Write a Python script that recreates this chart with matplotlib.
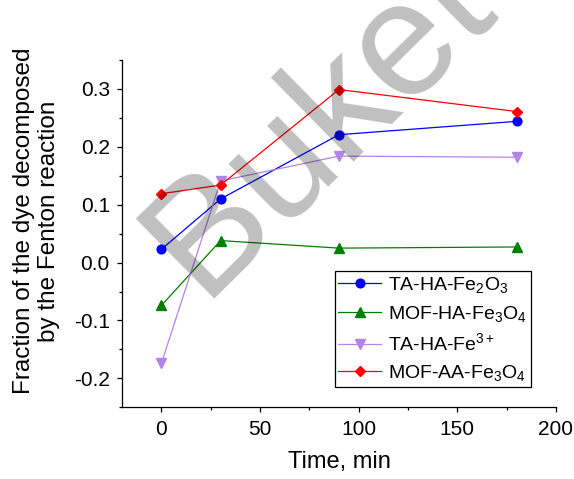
import matplotlib
matplotlib.use("Agg")
import matplotlib.pyplot as plt
from matplotlib.ticker import MultipleLocator, FormatStrFormatter

plt.rcParams['font.family'] = ['Liberation Sans', 'DejaVu Sans']
plt.rcParams['axes.unicode_minus'] = False
plt.rcParams['mathtext.fontset'] = 'custom'
plt.rcParams['mathtext.rm'] = 'Liberation Sans'
plt.rcParams['mathtext.it'] = 'Liberation Sans'

# data
time = [0, 30, 90, 180]
ta_ha_fe2o3 = [0.023, 0.110, 0.221, 0.244]
mof_ha_fe3o4 = [-0.074, 0.038, 0.025, 0.027]
ta_ha_fe3 = [-0.174, 0.141, 0.184, 0.182]
mof_aa_fe3o4 = [0.119, 0.134, 0.299, 0.261]

series = [
    (ta_ha_fe2o3, r'TA-HA-Fe$_2$O$_3$', 'blue', 'o', 6.3),
    (mof_ha_fe3o4, r'MOF-HA-Fe$_3$O$_4$', 'green', '^', 7.0),
    (ta_ha_fe3, r'TA-HA-Fe$^{3+}$', '#b283e8', 'v', 7.0),
    (mof_aa_fe3o4, r'MOF-AA-Fe$_3$O$_4$', 'red', 'D', 4.9),
]

fig = plt.figure(figsize=(5.74, 4.79), dpi=100)
ax = fig.add_axes([0.2125, 0.1497, 0.7561, 0.725])

for vals, lab, col, mk, ms in series:
    ax.plot(time, vals, color=col, marker=mk, markersize=ms, linewidth=0.9,
            label=lab)

ax.set_xlim(-20, 200)
ax.set_ylim(-0.25, 0.35)
ax.xaxis.set_major_locator(MultipleLocator(50))
ax.xaxis.set_minor_locator(MultipleLocator(25))
ax.yaxis.set_major_locator(MultipleLocator(0.1))
ax.yaxis.set_minor_locator(MultipleLocator(0.05))
ax.yaxis.set_major_formatter(FormatStrFormatter('%.1f'))

for s in ['top', 'right']:
    ax.spines[s].set_visible(False)
ax.spines['left'].set_linewidth(0.9)
ax.spines['bottom'].set_linewidth(0.9)
ax.tick_params(which='major', direction='out', length=3.8, width=0.9,
               labelsize=15, pad=5)
ax.tick_params(which='minor', direction='out', length=2.2, width=0.9)

ax.set_xlabel('Time, min', fontsize=17)
ax.xaxis.set_label_coords(0.5, -0.125)
ax.set_ylabel('Fraction of the dye decomposed\nby the Fenton reaction',
              fontsize=17.5, linespacing=1.15)
ax.yaxis.set_label_coords(-0.143, 0.536)

leg = ax.legend(loc='lower right', bbox_to_anchor=(0.942, 0.058),
                fontsize=14, frameon=True, fancybox=False, edgecolor='black',
                borderpad=0.2, handlelength=2.2, handletextpad=0.35,
                labelspacing=0.45, borderaxespad=0.0, framealpha=1)
leg.get_frame().set_linewidth(0.9)

# watermark over the plot
ax.text(0.351, 0.377, 'Buket', transform=fig.transFigure, fontsize=117,
        rotation=44.5, rotation_mode='anchor', ha='left', va='baseline',
        color='black', alpha=0.25, zorder=10, clip_on=False)

fig.savefig('out.png', dpi=100)
